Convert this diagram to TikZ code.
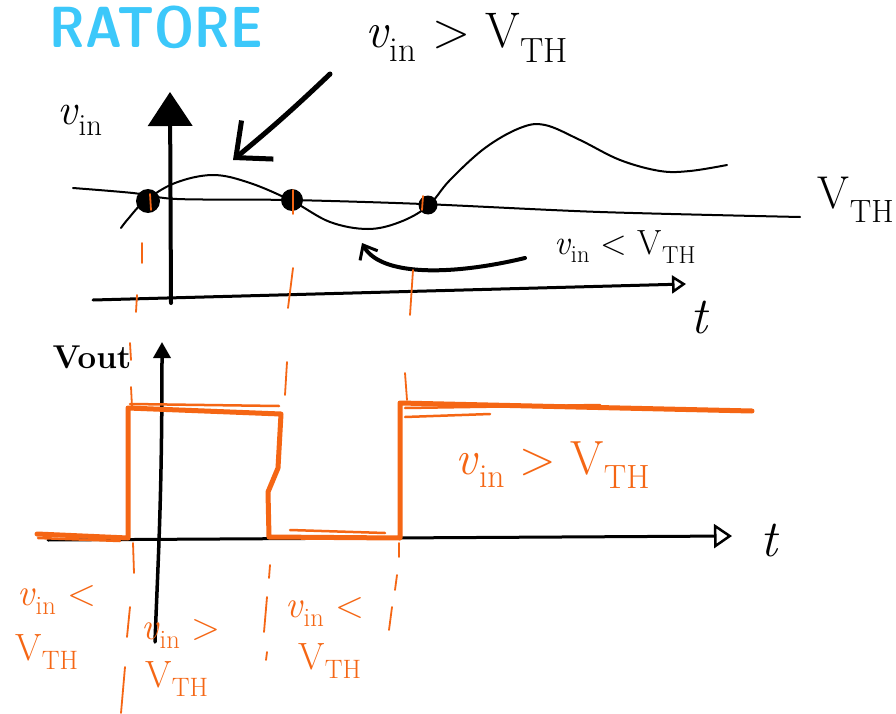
\documentclass[tikz,border=0pt]{standalone}
\usepackage{fontspec}
\usetikzlibrary{arrows.meta}
\definecolor{sketchorange}{RGB}{245,102,20}
\definecolor{sketchcyan}{RGB}{60,200,250}
\newcommand\myvin{\textit{v}\textsubscript{in}}
\newcommand\myvth{V\textsubscript{TH}}
\begin{document}
\begin{tikzpicture}[x=1pt,y=-1pt,
  ink/.style={line cap=round,line join=round},
  thinline/.style={ink,line width=2pt},
  axis/.style={ink,line width=4pt},
  wave/.style={ink,line width=5pt,draw=sketchorange},
  wavethin/.style={ink,line width=2.5pt,draw=sketchorange},
  tick/.style={ink,line width=1.8pt,draw=sketchorange},
  dot/.style={circle,fill=black,inner sep=0pt},
  lbl/.style={inner sep=0pt,font=\fontsize{38}{40}\selectfont},
  olbl/.style={lbl,text=sketchorange},
  pt/.style={coordinate}]
\fill[white] (0,0) rectangle (896,714);
\useasboundingbox (0,0) rectangle (896,714);

% title
\node[inner sep=0pt,text=sketchcyan,xscale=0.87,font=\fontsize{58}{58}\selectfont\sffamily\bfseries] (title) at (156,27) {RATORE};

% ---------- top graph ----------
\node[lbl,font=\fontsize{50}{52}\selectfont] (vintop) at (467,38) {\myvin{} > \myvth};
\node[lbl,font=\fontsize{44}{46}\selectfont] (vinaxis) at (80,120) {\myvin};
\node[lbl,font=\fontsize{46}{48}\selectfont] (vthlbl) at (856,200) {\myvth};
\node[lbl,font=\fontsize{35}{37}\selectfont] (vinless) at (625,247) {\myvin{} < \myvth};
\node[lbl,font=\fontsize{52}{54}\selectfont] (ttop) at (700,318) {\textit{t}};

% axes
\coordinate (yb) at (171,303);
\coordinate (yt) at (170,92);
\draw[axis,-{Triangle[length=34pt,width=44pt]}] (yb) -- (yt);
\coordinate (xl) at (93,300);
\coordinate (xr) at (686,284);
\draw[thinline,line width=3pt,-{Triangle[open,length=14pt,width=18pt,line width=2.5pt]}] (xl) -- (xr);

% threshold line
\draw[thinline] plot[smooth,tension=0.5] coordinates {(73,188) (133,193) (177,199) (290,200) (423,204) (600,212) (800,217)};

% input signal
\draw[thinline] plot[smooth,tension=0.6] coordinates {(121,228) (128,219) (145,201) (175,183) (213,175) (250,183) (292,201) (330,222) (368,229) (400,222) (428,206) (450,180) (485,148) (520,128) (545,125) (580,140) (620,160) (660,171) (690,171) (727,165)};

% crossing dots
\node[dot,minimum size=24pt] (d1) at (148,201) {};
\node[dot,minimum size=22pt] (d2) at (292,200) {};
\node[dot,minimum size=19pt] (d3) at (428,205) {};

% big arrow
\coordinate (ba) at (330,74);
\coordinate (bb) at (233,160);
\draw[ink,line width=5pt,-{Straight Barb[length=28pt,width=50pt,line width=5pt]}] (ba) to[bend left=2] (bb);

% curved arrow
\coordinate (ca) at (525,258);
\coordinate (cb) at (362,243);
\draw[ink,line width=4pt,-{Straight Barb[length=12pt,width=20pt,line width=3pt]}] (ca) .. controls (450,276) and (380,276) .. (cb);

% orange ticks (top)
\draw[tick] (142,243) -- (142,263);
\draw[tick] (137,295) -- (136,312);
\draw[tick] (150,194) -- (151,210);
\draw[tick] (293,268) -- (288,308);
\draw[tick] (293,190) -- (293,214);
\draw[tick] (413,270) -- (410,315);
\draw[tick] (423,196) -- (422,210);

% ---------- bottom graph ----------
\node[lbl,font=\fontsize{33}{35}\selectfont\bfseries] (vout) at (92,357) {Vout};
\node[lbl,font=\fontsize{52}{54}\selectfont] (tbot) at (770,541) {\textit{t}};

\coordinate (vb) at (155,642);
\coordinate (vt) at (162,342);
\draw[axis,line width=3.5pt,-{Triangle[length=16pt,width=17pt]}] (vb) .. controls (158,560) and (162,500) .. (vt);
\coordinate (hl) at (48,540);
\coordinate (hr) at (732,536);
\draw[thinline,line width=3pt,-{Triangle[open,length=18pt,width=24pt,line width=2.5pt]}] (hl) -- (hr);

% square wave
\draw[wave] (37,534) -- (128,538) -- (128,408) -- (281,414) -- (278,468) -- (268,492) -- (269,537) -- (400,538) -- (400,403) -- (752,411);
\draw[wavethin] (130,404) -- (279,406);
\draw[wavethin] (38,538) -- (120,541);
\draw[wavethin] (290,530) -- (385,533);
\draw[wavethin] (405,417) -- (490,414);
\draw[wavethin] (405,408) -- (600,405);

% orange ticks (bottom)
\draw[tick] (130,343) -- (131,360);
\draw[tick] (131,387) -- (132,407);
\draw[tick] (133,543) -- (134,573);
\draw[tick] (130,607) -- (127,637);
\draw[tick] (125,667) -- (121,713);
\draw[tick] (287,362) -- (285,395);
\draw[tick] (270,565) -- (269,578);
\draw[tick] (267,597) -- (264,632);
\draw[tick] (267,652) -- (266,660);
\draw[tick] (405,373) -- (407,400);
\draw[tick] (399,543) -- (399,557);
\draw[tick] (397,575) -- (395,590);
\draw[tick] (392,607) -- (389,630);

% orange labels
\node[olbl,font=\fontsize{48}{50}\selectfont] (ohigh) at (553,465) {\myvin{} > \myvth};
\node[olbl] (l1a) at (57,600) {\myvin{} <};
\node[olbl] (l1b) at (47,652) {\myvth};
\node[olbl] (l2a) at (181,634) {\myvin{} >};
\node[olbl] (l2b) at (177,679) {\myvth};
\node[olbl] (l3a) at (325,612) {\myvin{} <};
\node[olbl] (l3b) at (330,661) {\myvth};
\end{tikzpicture}
\end{document}
